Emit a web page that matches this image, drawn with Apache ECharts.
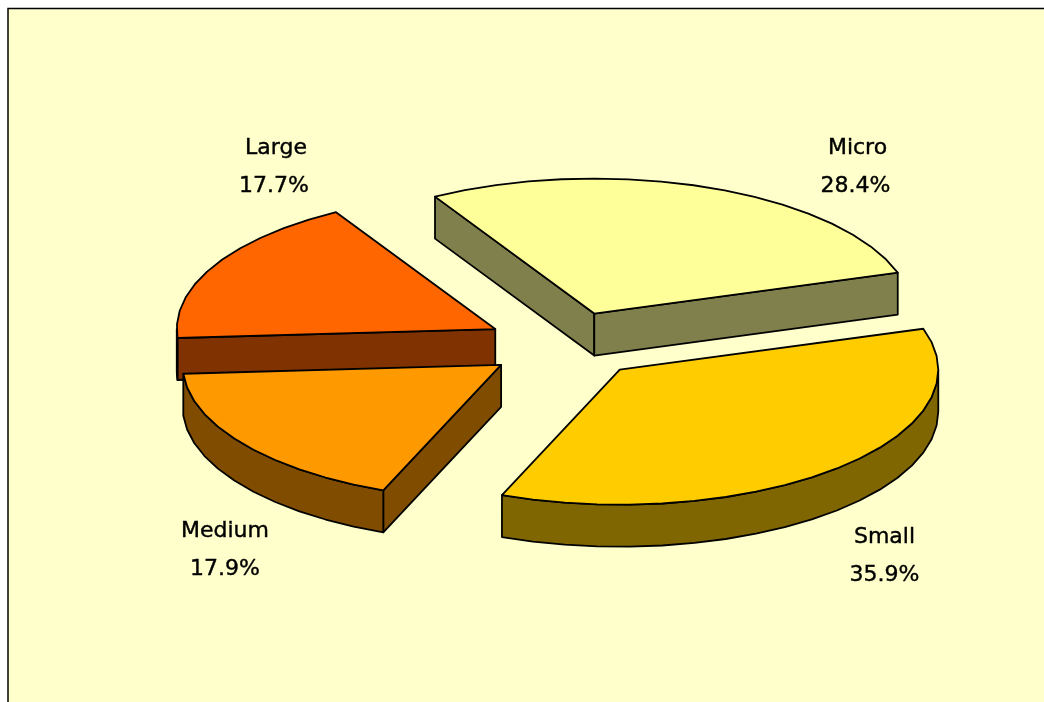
<!DOCTYPE html>
<html>
<head>
<meta charset="utf-8">
<title>Share by size</title>
<style>
html, body { margin: 0; padding: 0; background: #fff; }
#chart { width: 1044px; height: 702px; }
</style>
<script src="https://cdn.jsdelivr.net/npm/echarts@6/dist/echarts.min.js"></script>
</head>
<body>
<div id="chart"></div>
<script>
// data, clockwise from the start angle
const categories = ['Micro', 'Small', 'Medium', 'Large']
const shares = [28.4, 35.9, 17.9, 17.7]

const topColors = ['#FFFF99', '#FFCC00', '#FF9900', '#FF6600']
const sideColors = ['#80804D', '#806600', '#804D00', '#803300']
// label centres on the page: name x, name y, percent x
const labelSpots = [[857.5, 148, 855.5], [884.5, 537, 884.5], [225, 531, 225], [276, 148, 274]]

const pie = { cx: 565.5, cy: 345, rx: 318.5, ry: 135, depth: 42, explode: 0.25, start: 240 }
const lineStyle = { stroke: '#000', lineWidth: 1.8, lineJoin: 'round' }
const labelStyle = { font: '22px "DejaVu Sans"', fill: '#000', stroke: '#000', lineWidth: 0.4, align: 'center', verticalAlign: 'middle' }

const total = shares.reduce((a, b) => a + b, 0)
let cursor = pie.start
const slices = shares.map((v, i) => {
    const a = cursor
    const b = cursor + v / total * 360
    cursor = b
    return { index: i, a, b, mid: (a + b) / 2 }
})
// back slices are painted first
slices.sort((p, q) => Math.sin(p.mid * Math.PI / 180) - Math.sin(q.mid * Math.PI / 180))

const rad = d => d * Math.PI / 180

function renderSlice(params) {
    const s = slices[params.dataIndex]
    const i = s.index
    const ox = pie.cx + pie.explode * pie.rx * Math.cos(rad(s.mid))
    const oy = pie.cy + pie.explode * pie.ry * Math.sin(rad(s.mid))
    const rim = t => [ox + pie.rx * Math.cos(rad(t)), oy + pie.ry * Math.sin(rad(t))]
    const drop = p => [p[0], p[1] + pie.depth]
    // coarse steps, the original outline is faceted too
    const arc = (from, to) => {
        const n = Math.max(2, Math.round((to - from) / 6))
        const pts = []
        for (let k = 0; k <= n; k++) pts.push(rim(from + (to - from) * k / n))
        return pts
    }
    const face = (points, fill) => ({
        type: 'polygon',
        shape: { points },
        style: Object.assign({ fill }, lineStyle)
    })

    const children = []
    const apex = [ox, oy]
    const side = sideColors[i]

    // cut faces that turn towards the viewer
    if (Math.cos(rad(s.a)) < 0) {
        const p = rim(s.a)
        children.push(face([apex, p, drop(p), drop(apex)], side))
    }
    if (Math.cos(rad(s.b)) > 0) {
        const p = rim(s.b)
        children.push(face([apex, p, drop(p), drop(apex)], side))
    }
    // outer wall, only the front half of the ellipse shows
    const ranges = [[0, 180], [360, 540]]
    ranges.forEach(r => {
        const from = Math.max(s.a, r[0])
        const to = Math.min(s.b, r[1])
        if (to > from) {
            const top = arc(from, to)
            children.push(face(top.concat(top.map(drop).reverse()), side))
        }
    })
    // top
    children.push(face([apex].concat(arc(s.a, s.b)), topColors[i]))

    const spot = labelSpots[i]
    children.push({
        type: 'text',
        style: Object.assign({ text: categories[i], x: spot[0], y: spot[1] }, labelStyle)
    })
    children.push({
        type: 'text',
        style: Object.assign({ text: shares[i].toFixed(1) + '%', x: spot[2], y: spot[1] + 38 }, labelStyle)
    })
    return { type: 'group', children }
}

const myChart = echarts.init(document.getElementById('chart'))

myChart.setOption({
    animation: false,
    backgroundColor: '#fff',
    graphic: [{
        type: 'rect',
        z: -1,
        shape: { x: 8, y: 8.5, width: 1100, height: 800 },
        style: { fill: '#FFFFCC', stroke: '#000', lineWidth: 1.5 },
        silent: true
    }],
    series: [{
        type: 'custom',
        coordinateSystem: 'none',
        renderItem: renderSlice,
        data: slices.map(s => ({ name: categories[s.index], value: shares[s.index] }))
    }]
})
</script>
</body>
</html>
